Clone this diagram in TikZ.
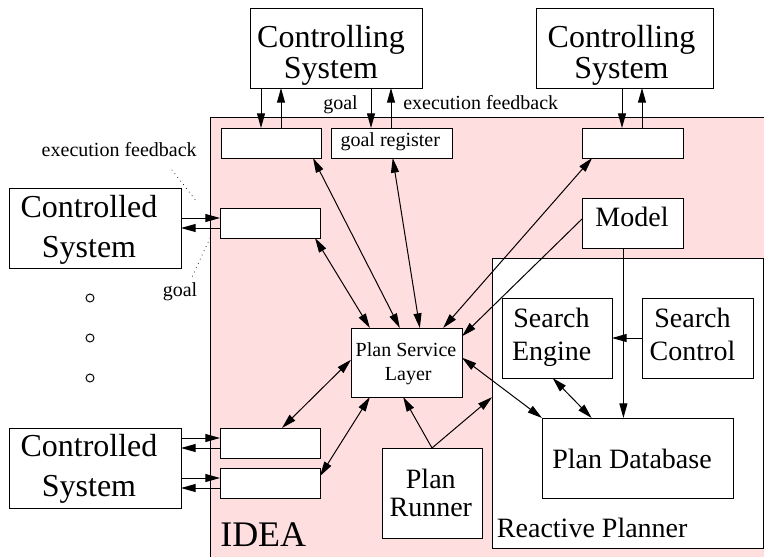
\documentclass[tikz,border=0pt]{standalone}
\usepackage{fontspec}
\setmainfont{Liberation Serif}
\usetikzlibrary{arrows.meta,calc}
\definecolor{ideapink}{RGB}{255,222,224}
\tikzset{
  box/.style={draw, fill=white, line width=0.75pt, inner sep=0pt, outer sep=0pt},
  big/.style={font=\fontsize{24}{24}\selectfont, inner sep=0pt, anchor=base},
  mid/.style={font=\fontsize{21}{21}\selectfont, inner sep=0pt, anchor=base},
  huge/.style={font=\fontsize{27}{27}\selectfont, inner sep=0pt, anchor=base},
  small/.style={font=\fontsize{15}{15}\selectfont, inner sep=0pt, anchor=base},
  conn/.style={line width=0.75pt},
  arr/.style={conn, -{Triangle[length=11pt,width=6pt]}},
  darr/.style={conn, {Triangle[length=11pt,width=6pt]}-{Triangle[length=11pt,width=6pt]}},
  pointer/.style={line width=0.75pt, line cap=round, dash pattern=on 0pt off 3.5pt},
}
\begin{document}
\begin{tikzpicture}[x=0.75pt,y=-0.75pt]
\useasboundingbox (0,0) rectangle (764,557);

% IDEA area
\fill[ideapink] (210,117) rectangle (764,557);
\draw[conn] (764,117) -- (210,117) -- (210,557);
\node[huge, anchor=base west] (idea) at (220,546.7) {IDEA};

% reactive planner frame
\node[box, minimum width=203.25pt, minimum height=217.5pt] (rp) at (627.5,403) {};
\node[mid, anchor=base west] (rplabel) at (496.7,537.3) {Reactive Planner};

% controlling systems
\node[box, minimum width=129pt, minimum height=60pt] (cs1) at (336,48) {};
\node[big] (cs1a) at (331,47) {Controlling};
\node[big] (cs1b) at (331,78.5) {System};
\node[box, minimum width=132.75pt, minimum height=60pt] (cs2) at (624.5,48) {};
\node[big] (cs2a) at (621.5,47) {Controlling};
\node[big] (cs2b) at (621.5,78.5) {System};

% controlled systems
\node[box, minimum width=129pt, minimum height=60pt] (cd1) at (95,228) {};
\node[big] (cd1a) at (89,217.3) {Controlled};
\node[big] (cd1b) at (89,257.7) {System};
\node[box, minimum width=129pt, minimum height=60pt] (cd2) at (95,468) {};
\node[big] (cd2a) at (89,456.7) {Controlled};
\node[big] (cd2b) at (89,496.7) {System};

% more controlled systems
\draw[conn] (90,298) circle[radius=3pt];
\draw[conn] (90,338) circle[radius=3pt];
\draw[conn] (90,378) circle[radius=3pt];

% registers
\node[box, minimum width=75pt, minimum height=22.5pt] (r1) at (271,143) {};
\node[box, minimum width=90.75pt, minimum height=22.5pt] (gr) at (391.5,143) {};
\node[small] (grtext) at (390.3,146.7) {goal register};
\node[box, minimum width=75.75pt, minimum height=22.5pt] (r3) at (632.5,143) {};
\node[box, minimum width=75pt, minimum height=22.5pt] (rc1) at (270,223) {};
\node[box, minimum width=75pt, minimum height=22.5pt] (ra) at (270,443) {};
\node[box, minimum width=75pt, minimum height=22.5pt] (rb) at (270,483) {};

% core components
\node[box, minimum width=83.25pt, minimum height=51.75pt] (psl) at (406.5,362.5) {};
\node[small] (psla) at (406,356.7) {Plan Service};
\node[small] (pslb) at (408.3,380) {Layer};
\node[box, minimum width=75.75pt, minimum height=37.5pt] (model) at (632.5,223) {};
\node[mid] (modeltext) at (632,226.7) {Model};
\node[box, minimum width=82.5pt, minimum height=60pt] (se) at (557,338) {};
\node[mid] (sea) at (551.5,327.7) {Search};
\node[mid] (seb) at (551.7,360.7) {Engine};
\node[box, minimum width=83.25pt, minimum height=60pt] (sc) at (697.5,338) {};
\node[mid] (sca) at (692.5,327.7) {Search};
\node[mid] (scb) at (692.5,360.7) {Control};
\node[box, minimum width=143.25pt, minimum height=60pt] (pd) at (637.5,458) {};
\node[mid] (pdtext) at (632,468.3) {Plan Database};
\node[box, minimum width=75pt, minimum height=67.5pt] (pr) at (432,493) {};
\node[mid] (pra) at (430.8,488.5) {Plan};
\node[mid] (prb) at (430.8,516.5) {Runner};

% labels
\node[small] (goaltop) at (340.5,109) {goal};
\node[small, anchor=base west] (feedtop) at (403,109) {execution feedback};
\node[small] (feedleft) at (119.2,156.7) {execution feedback};
\node[small] (goalleft) at (180,296.7) {goal};
\coordinate (feedp1) at (172,170);
\coordinate (feedp2) at (197,202);
\coordinate (goalp1) at (210,238);
\coordinate (goalp2) at (192,277);
\draw[pointer] (feedp1) -- (feedp2);
\draw[pointer] (goalp1) -- (goalp2);

% goal / feedback links between systems and registers
\coordinate (c1d) at ($(cs1.south west)+(11,0)$);
\coordinate (c1u) at ($(cs1.south west)+(31,0)$);
\coordinate (c1gd) at ($(cs1.south west)+(121,0)$);
\coordinate (c1gu) at ($(cs1.south west)+(141,0)$);
\coordinate (c2d) at ($(cs2.south west)+(86,0)$);
\coordinate (c2u) at ($(cs2.south west)+(106,0)$);
\draw[arr] (c1d) -- (c1d |- r1.north);
\draw[arr] (c1u |- r1.north) -- (c1u);
\draw[arr] (c1gd) -- (c1gd |- gr.north);
\draw[arr] (c1gu |- gr.north) -- (c1gu);
\draw[arr] (c2d) -- (c2d |- r3.north);
\draw[arr] (c2u |- r3.north) -- (c2u);

\coordinate (k1in) at ($(rc1.west)+(0,-5)$);
\coordinate (k1out) at ($(rc1.west)+(0,5)$);
\coordinate (kain) at ($(ra.west)+(0,-5)$);
\coordinate (kaout) at ($(ra.west)+(0,5)$);
\coordinate (kbin) at ($(rb.west)+(0,-5)$);
\coordinate (kbout) at ($(rb.west)+(0,5)$);
\draw[arr] (k1in -| cd1.east) -- (k1in);
\draw[arr] (k1out) -- (k1out -| cd1.east);
\draw[arr] (kain -| cd2.east) -- (kain);
\draw[arr] (kaout) -- (kaout -| cd2.east);
\draw[arr] (kbin -| cd2.east) -- (kbin);
\draw[arr] (kbout) -- (kbout -| cd2.east);

% links to the plan service layer
\draw[darr] ($(r1.south west)!0.92!(r1.south east)$) -- ($(psl.north west)!0.44!(psl.north east)$);
\draw[darr] ($(gr.south west)!0.51!(gr.south east)$) -- ($(psl.north west)!0.62!(psl.north east)$);
\draw[darr] ($(r3.south west)!0.10!(r3.south east)$) -- ($(psl.north west)!0.83!(psl.north east)$);
\draw[darr] ($(rc1.south west)!0.95!(rc1.south east)$) -- ($(psl.north west)!0.17!(psl.north east)$);
\draw[arr] ($(model.north west)!0.42!(model.south west)$) -- ($(psl.north east)!0.12!(psl.south east)$);
\draw[darr] ($(ra.north west)!0.62!(ra.north east)$) -- ($(psl.north west)!0.46!(psl.south west)$);
\draw[darr] ($(rb.north east)!0.27!(rb.south east)$) -- ($(psl.south west)!0.17!(psl.south east)$);
\draw[darr] ($(psl.north east)!0.43!(psl.south east)$) -- (pd.north west);

% plan runner
\draw[arr] (pr.north) -- ($(psl.south west)!0.47!(psl.south east)$);
\draw[arr] (pr.north) -- ($(rp.north west)!0.48!(rp.south west)$);

% inside the reactive planner
\coordinate (mdl) at ($(model.south west)!0.41!(model.south east)$);
\draw[arr] (mdl) -- (mdl |- pd.north);
\draw[arr] (sc.west) -- (se.east);
\draw[darr] ($(se.south west)!0.46!(se.south east)$) -- ($(pd.north west)!0.26!(pd.north east)$);
\end{tikzpicture}
\end{document}
